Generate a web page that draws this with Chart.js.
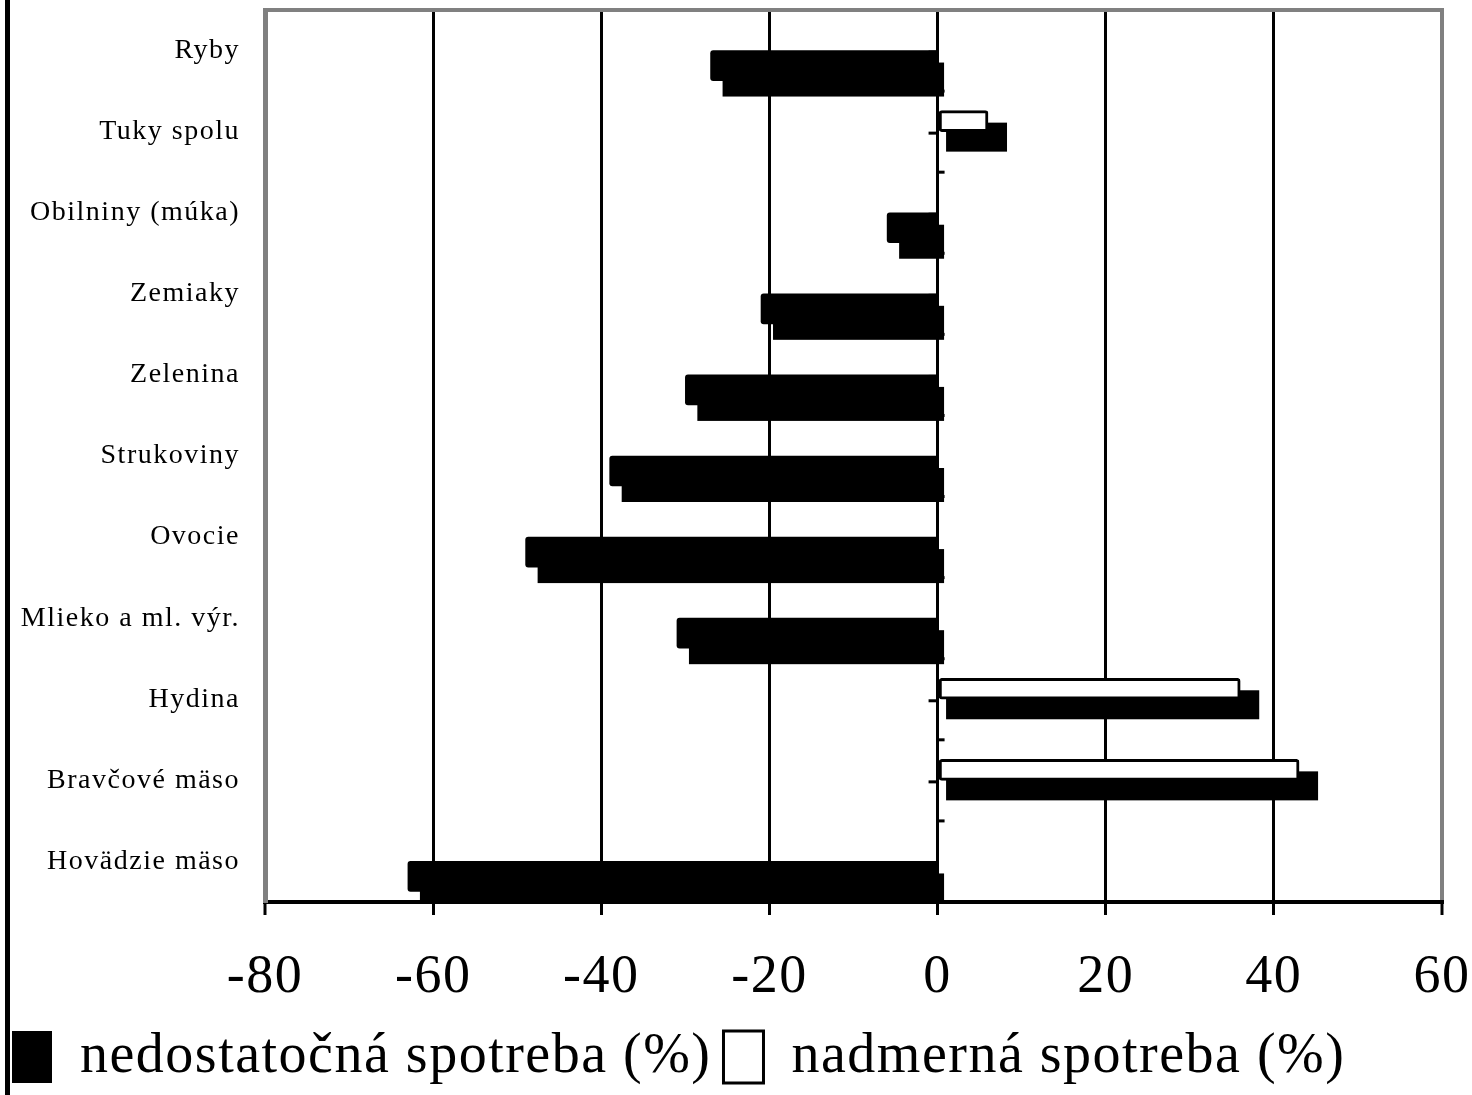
<!DOCTYPE html>
<html lang="sk">
<head>
<meta charset="utf-8">
<title>Spotreba potravín</title>
<script src="https://cdn.jsdelivr.net/npm/chart.js@4.4.0/dist/chart.umd.min.js"></script>
<style>
  html, body { margin: 0; padding: 0; background: #fff; }
</style>
</head>
<body>
<canvas id="graf" width="1472" height="1095"></canvas>
<script>
//Kategórie potravín (zhora nadol)
const kategorie = ['Ryby', 'Tuky spolu', 'Obilniny (múka)', 'Zemiaky', 'Zelenina', 'Strukoviny',
    'Ovocie', 'Mlieko a ml. výr.', 'Hydina', 'Bravčové mäso', 'Hovädzie mäso'];

//Hodnoty v %
const nedostatocna = [-27, 0, -6, -21, -30, -39, -49, -31, 0, 0, -63];
const nadmerna = [0, 6, 0, 0, 0, 0, 0, 0, 36, 43, 0];

//Os x
const osMin = -80;
const osMax = 60;
const osKrok = 20;

//Farby
const cierna = '#000000';
const biela = '#ffffff';
const seda = '#808080';
const pismo = 'Liberation Serif';

//Plugin: riedke písmo, horný rám, značky na nulovej osi a 3D hĺbka stĺpcov
const hlbka = {
    id: 'hlbka',
    beforeUpdate(chart) {
        chart.ctx.letterSpacing = '1.5px';
    },
    beforeDraw(chart) {
        chart.ctx.letterSpacing = '1.5px';
    },
    beforeDatasetsDraw(chart) {
        const { ctx, chartArea: a, scales: { x, y } } = chart;
        const nula = x.getPixelForValue(0);
        const pol = (y.getPixelForValue(1) - y.getPixelForValue(0)) / 2;
        ctx.save();
        ctx.fillStyle = seda;
        ctx.fillRect(a.left - 2, a.top - 2, a.width + 4, 4);

        ctx.beginPath();
        ctx.rect(a.left, a.top, a.width, a.height);
        ctx.clip();
        ctx.fillStyle = cierna;
        kategorie.forEach((k, i) => {
            const c = y.getPixelForValue(i);
            ctx.fillRect(nula - 9, c, 9, 3);
            ctx.fillRect(nula, c + pol - 1.5, 7, 3);
        });

        chart.getSortedVisibleDatasetMetas().forEach(meta => {
            const jeBiely = chart.data.datasets[meta.index].backgroundColor === biela;
            meta.data.forEach(bar => {
                const { x: px, y: py, base, height } = bar.getProps(['x', 'y', 'base', 'height'], true);
                if (Math.abs(px - base) < 1) return;
                const zaporny = px < base;
                const l = Math.min(px, base) + (zaporny ? 12 : 7);
                const r = Math.max(px, base) + (zaporny ? 8 : 19);
                const t = py - height / 2 + 12;
                const b = py + height / 2 + (jeBiely ? 20 : 16);
                ctx.fillRect(l, t, r - l, b - t);
            });
        });
        ctx.restore();
    },
    afterDraw(chart) {
        //čierna čiara na ľavom okraji
        chart.ctx.fillStyle = cierna;
        chart.ctx.fillRect(5, 0, 5, chart.height);
    }
};

const okraj = (ctx) => ctx.tick && (ctx.tick.value === osMin || ctx.tick.value === osMax);

const bezOdsadenia = (s) => {
    s.paddingTop = 0;
    s.paddingBottom = 0;
    s.paddingLeft = 0;
    s.paddingRight = 0;
};

new Chart(document.getElementById('graf'), {
    type: 'bar',
    data: {
        labels: kategorie,
        datasets: [
            {
                label: 'nadmerná spotreba (%)',
                data: nadmerna,
                backgroundColor: biela,
                borderColor: cierna,
                borderWidth: 3,
                borderSkipped: false,
                borderRadius: 3,
                barThickness: 21
            },
            {
                label: 'nedostatočná spotreba (%)',
                data: nedostatocna,
                backgroundColor: cierna,
                borderColor: cierna,
                borderWidth: 0,
                borderRadius: 3,
                barThickness: 30
            }
        ]
    },
    options: {
        indexAxis: 'y',
        responsive: false,
        animation: false,
        layout: { padding: { left: 0, right: 30, top: 10, bottom: 0 } },
        scales: {
            x: {
                min: osMin,
                max: osMax,
                ticks: {
                    stepSize: osKrok,
                    color: cierna,
                    font: { family: pismo, size: 54 },
                    padding: 30,
                    maxRotation: 0
                },
                grid: {
                    color: (ctx) => okraj(ctx) ? seda : cierna,
                    lineWidth: (ctx) => okraj(ctx) ? 4 : 3,
                    tickLength: 13,
                    tickColor: cierna,
                    tickWidth: 3
                },
                border: { color: cierna, width: 4 },
                afterFit: (s) => { s.height = 115; bezOdsadenia(s); }
            },
            y: {
                ticks: {
                    color: cierna,
                    font: { family: pismo, size: 28 },
                    padding: 17
                },
                grid: { display: false },
                border: { color: seda, width: 5 },
                afterFit: (s) => { s.width = 265; bezOdsadenia(s); }
            }
        },
        plugins: {
            legend: {
                position: 'bottom',
                align: 'start',
                reverse: true,
                labels: {
                    color: cierna,
                    font: { family: pismo, size: 56 },
                    boxWidth: 40,
                    boxHeight: 52,
                    padding: 12
                }
            },
            tooltip: { enabled: false }
        }
    },
    plugins: [hlbka]
});
</script>
</body>
</html>
